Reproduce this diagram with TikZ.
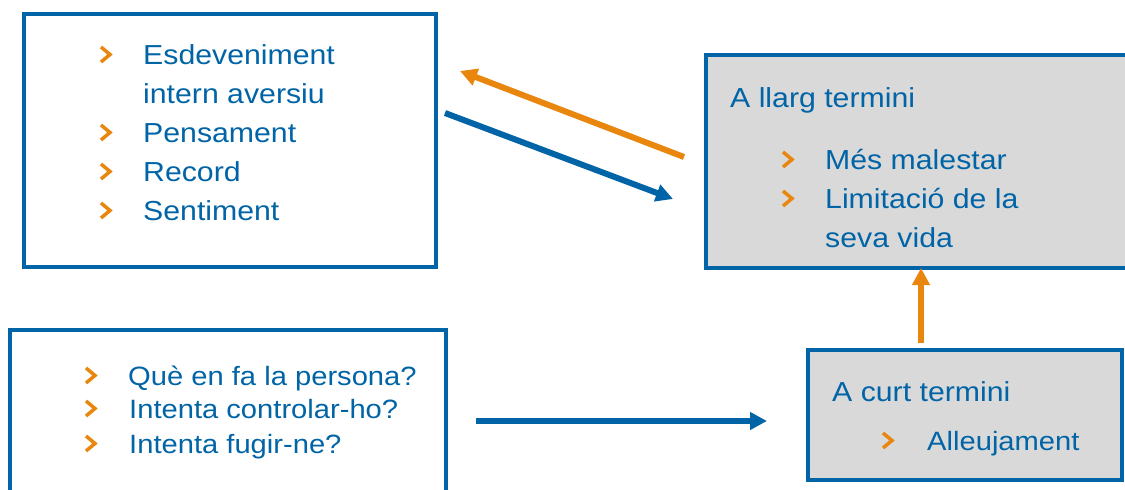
\documentclass[tikz,border=0pt]{standalone}
\usepackage{fontspec}
\setmainfont{Liberation Sans}[FakeStretch=1.1]
\usetikzlibrary{arrows.meta}
\definecolor{cblue}{RGB}{0,100,166}
\definecolor{corange}{RGB}{232,134,14}
\definecolor{cgray}{RGB}{217,217,217}
\begin{document}
\begin{tikzpicture}[x=1pt,y=-1pt,
  box/.style={draw=cblue,line width=4pt,inner sep=0pt},
  graybox/.style={box,fill=cgray},
  txt/.style={anchor=base west,inner sep=0pt,text=cblue,font=\fontsize{27.5}{33}\selectfont},
  stxt/.style={txt,font=\fontsize{26.5}{32}\selectfont},
  chevron/.style={draw=corange,line width=3.5pt,line cap=butt,line join=miter},
  barrow/.style={draw=cblue,line width=6pt,-{Triangle[length=17pt,width=17pt]}},
  oarrow/.style={draw=corange,line width=6pt,-{Triangle[length=17pt,width=17pt]}},
  pics/chev/.style={code={\draw[chevron] (0,-17)--(9,-9.5)--(0,-2);}}
]
\useasboundingbox (0,0) rectangle (1125,490);
% boxes
\node[box,minimum width=412pt,minimum height=253pt] (b1) at (230,140.5) {};
\node[graybox,minimum width=429pt,minimum height=213pt] (b2) at (920.5,161.5) {};
\node[box,minimum width=436pt,minimum height=170pt] (b3) at (228,415) {};
\node[graybox,minimum width=314pt,minimum height=130pt] (b4) at (965,415) {};
% box 1 text
\pic at (101,64) {chev};
\node[txt] (t1a) at (143,64) {Esdeveniment};
\node[txt] (t1b) at (143,103) {intern aversiu};
\pic at (101,142) {chev};
\node[txt] (t1c) at (143,142) {Pensament};
\pic at (101,181) {chev};
\node[txt] (t1d) at (143,181) {Record};
\pic at (101,220) {chev};
\node[txt] (t1e) at (143,220) {Sentiment};
% box 2 text
\node[txt] (t2h) at (730,107) {A llarg termini};
\pic at (783,169) {chev};
\node[txt] (t2a) at (825,169) {Més malestar};
\pic at (783,208) {chev};
\node[txt] (t2b) at (825,208) {Limitació de la};
\node[txt] (t2c) at (825,247) {seva vida};
% box 3 text
\node[stxt] (t3a) at (128,385) {Què en fa la persona?};
\pic at (86,385) {chev};
\node[stxt] (t3b) at (129,418) {Intenta controlar-ho?};
\pic at (86,418) {chev};
\node[stxt] (t3c) at (129,453) {Intenta fugir-ne?};
\pic at (86,453) {chev};
% box 4 text
\node[txt] (t4h) at (832,401) {A curt termini};
\pic at (883,450) {chev};
\node[stxt] (t4a) at (927,450) {Alleujament};
% arrows
\coordinate (o1s) at (684,157);
\coordinate (o1e) at (460,71);
\coordinate (bl1s) at (445,113);
\coordinate (bl1e) at (673,199);
\coordinate (bl2s) at (476,421);
\coordinate (bl2e) at (767,421);
\coordinate (o2s) at (921,343);
\coordinate (o2e) at (921,268);
\draw[oarrow] (o1s) -- (o1e);
\draw[barrow] (bl1s) -- (bl1e);
\draw[barrow] (bl2s) -- (bl2e);
\draw[oarrow] (o2s) -- (o2e);
\end{tikzpicture}
\end{document}
